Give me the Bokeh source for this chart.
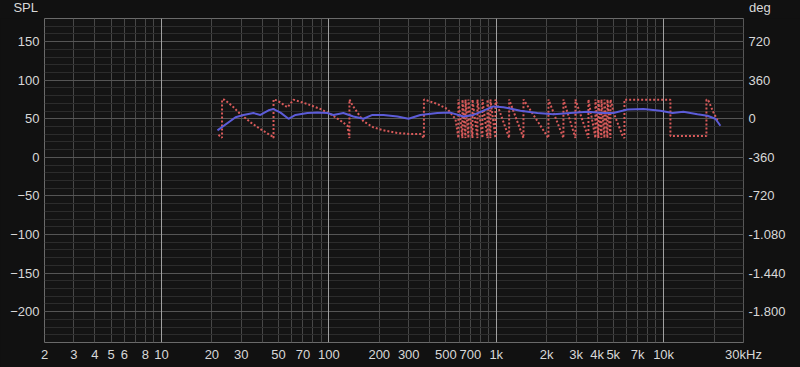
from bokeh.plotting import figure
from bokeh.models import Range1d, LinearAxis, FixedTicker, Grid, Div
from bokeh.layouts import column
from bokeh.embed import file_html
from bokeh.resources import INLINE

# ---- data ----
spl_freq = [21.6, 27.7, 30.9, 35.4, 39.0, 43.6, 46.7, 51.4, 57.4, 63.2, 74.5, 85.5, 98,
            106.5, 122, 140, 161, 182, 212, 257, 299, 352, 445, 532, 637, 731, 839, 962,
            1104, 1395, 1762, 2197, 2774, 3505, 4370, 5014, 6078, 7572, 9570, 11286,
            13130, 15920, 18270, 20380, 21840]
spl_db = [35, 52, 55, 57.5, 55, 61, 62.6, 58, 50, 55, 57.5, 58, 57.5,
          55, 57.5, 53, 50, 55, 55, 53, 50, 55, 57.5, 58, 53, 55, 60.5, 66,
          65, 60.5, 57.5, 56, 57.5, 59, 57.5, 57.5, 62, 62.6, 60.5, 57.5,
          59, 56, 54, 50, 41]

phase_freq = [21.9, 23.0, 23.0, 23.8, 26.6, 29.6, 34.0, 39.0, 46.0, 46.7, 46.7, 49.3, 56.6,
              61.5, 74.5, 89.1, 102.2, 117.3, 129.1, 132.7, 132.7, 138.3, 161, 184.6, 212,
              257, 307, 352, 369.8, 369.8, 388, 445, 511, 570.6,
              594, 594, 628, 628, 655, 655, 682, 682, 721, 721, 772, 772, 827, 827,
              886, 886, 923, 923, 989, 989,
              1194, 1194, 1454, 1454, 2050, 2050, 2520, 2520, 2972, 2972, 3554, 3554,
              3913, 3913, 4078, 4078, 4251, 4251, 4430, 4430, 4616, 4616, 4812, 4812,
              4878, 5014, 5674, 5832, 5832, 6500, 8000, 9500, 10978, 10978, 12500, 15000,
              18018, 18018, 18520, 19835, 21240]
phase_deg = [-150, -178, 180, 178, 116, 44, -33, -96, -165, -180, 180, 170, 107,
             178, 138, 91, 44, -17, -64, -180, 180, 126, -24, -80, -108,
             -133, -142, -142, -180, 180, 170, 138, 91, -2,
             -180, 180, -180, 180, -180, 180, -180, 180, -180, 180, -180, 180, -180, 180,
             -180, 180, -180, 180, -180, 180,
             -180, 180, -180, 180, -180, 180, -180, 180, -180, 180, -180, 180,
             -180, 180, -180, 180, -180, 180, -180, 180, -180, 180, -180, 180,
             150, 60, -155, -180, 178, 178, 178, 178, 178, -160, -160, -160,
             -160, 180, 170, 60, -30]

x_ticks = [2, 3, 4, 5, 6, 8, 10, 20, 30, 50, 70, 100, 200, 300, 500, 700,
           1000, 2000, 3000, 4000, 5000, 7000, 10000, 30000]
x_tick_labels = ["2", "3", "4", "5", "6", "8", "10", "20", "30", "50", "70", "100",
                 "200", "300", "500", "700", "1k", "2k", "3k", "4k", "5k", "7k",
                 "10k", "30kHz"]
y_ticks = [-200, -150, -100, -50, 0, 50, 100, 150]
deg_ticks = [-1800, -1440, -1080, -720, -360, 0, 360, 720]
deg_tick_labels = ["-1.800", "-1.440", "-1.080", "-720", "-360", "0", "360", "720"]
left_title = "SPL"
right_title = "deg"

# ---- style ----
FONT = "Liberation Sans"
TXT = "#d8d8d8"
BG = "#111111"

span_css = ("position:absolute;top:1px;line-height:14px;font-family:'Liberation Sans';"
            "font-size:13px;color:%s;white-space:nowrap;" % TXT)
head = Div(
    text=('<div style="position:relative;width:800px;height:18px;background:%s;">'
          '<span style="%sright:762px;">%s</span>'
          '<span style="%sleft:749px;">%s</span></div>')
         % (BG, span_css, left_title, span_css, right_title),
    width=800, height=18, margin=0, styles={"background-color": BG})

p = figure(width=800, height=349, x_axis_type="log",
           x_range=Range1d(2, 30005), y_range=Range1d(-240, 180),
           output_backend="svg", toolbar_location=None,
           min_border_left=44, min_border_right=57, min_border_top=0,
           min_border_bottom=25,
           background_fill_color="#141414", border_fill_color=BG,
           outline_line_color="#6a6a6a", outline_line_width=1)

# vertical grid: every integer multiple in each decade
vgrid = []
for dec in [1, 10, 100, 1000, 10000]:
    for m in range(2, 10):
        v = m * dec
        if 2 <= v <= 30000:
            vgrid.append(v)
p.xgrid.ticker = FixedTicker(ticks=vgrid)
p.xgrid.grid_line_color = "#474747"
p.xgrid.grid_line_width = 1
dec_grid = Grid(dimension=0, ticker=FixedTicker(ticks=[10, 100, 1000, 10000]),
                grid_line_color="#a0a0a0", grid_line_width=1)
p.add_layout(dec_grid)

p.ygrid.ticker = FixedTicker(ticks=y_ticks,
                             minor_ticks=[v for v in range(-240, 181, 10)])
p.ygrid.grid_line_color = "#555555"
p.ygrid.minor_grid_line_color = "#2c2c2c"

# axes
def style_axis(ax, standoff):
    ax.axis_line_color = None
    ax.major_tick_line_color = None
    ax.minor_tick_line_color = None
    ax.major_tick_out = 0
    ax.major_tick_in = 0
    ax.major_label_text_color = TXT
    ax.major_label_text_font = FONT
    ax.major_label_text_font_size = "13px"
    ax.major_label_standoff = standoff

style_axis(p.xaxis[0], 4)
p.xaxis[0].ticker = FixedTicker(ticks=x_ticks)
p.xaxis[0].major_label_overrides = {t: l for t, l in zip(x_ticks, x_tick_labels)}

style_axis(p.yaxis[0], 5)
p.yaxis[0].ticker = FixedTicker(ticks=y_ticks)

p.extra_y_ranges = {"deg": Range1d(-2088, 936)}
rax = LinearAxis(y_range_name="deg", ticker=FixedTicker(ticks=deg_ticks),
                 major_label_overrides={t: l for t, l in zip(deg_ticks, deg_tick_labels)})
style_axis(rax, 5)
p.add_layout(rax, "right")

# traces
p.line(phase_freq, phase_deg, y_range_name="deg", line_color="#d85a5a",
       line_width=2, line_dash="2 2")
p.line(spl_freq, spl_db, line_color="#5c5cd8", line_width=2)

layout = column(head, p, spacing=0)
layout.styles = {"background-color": BG}

open("out.html", "w").write(file_html(layout, INLINE))
